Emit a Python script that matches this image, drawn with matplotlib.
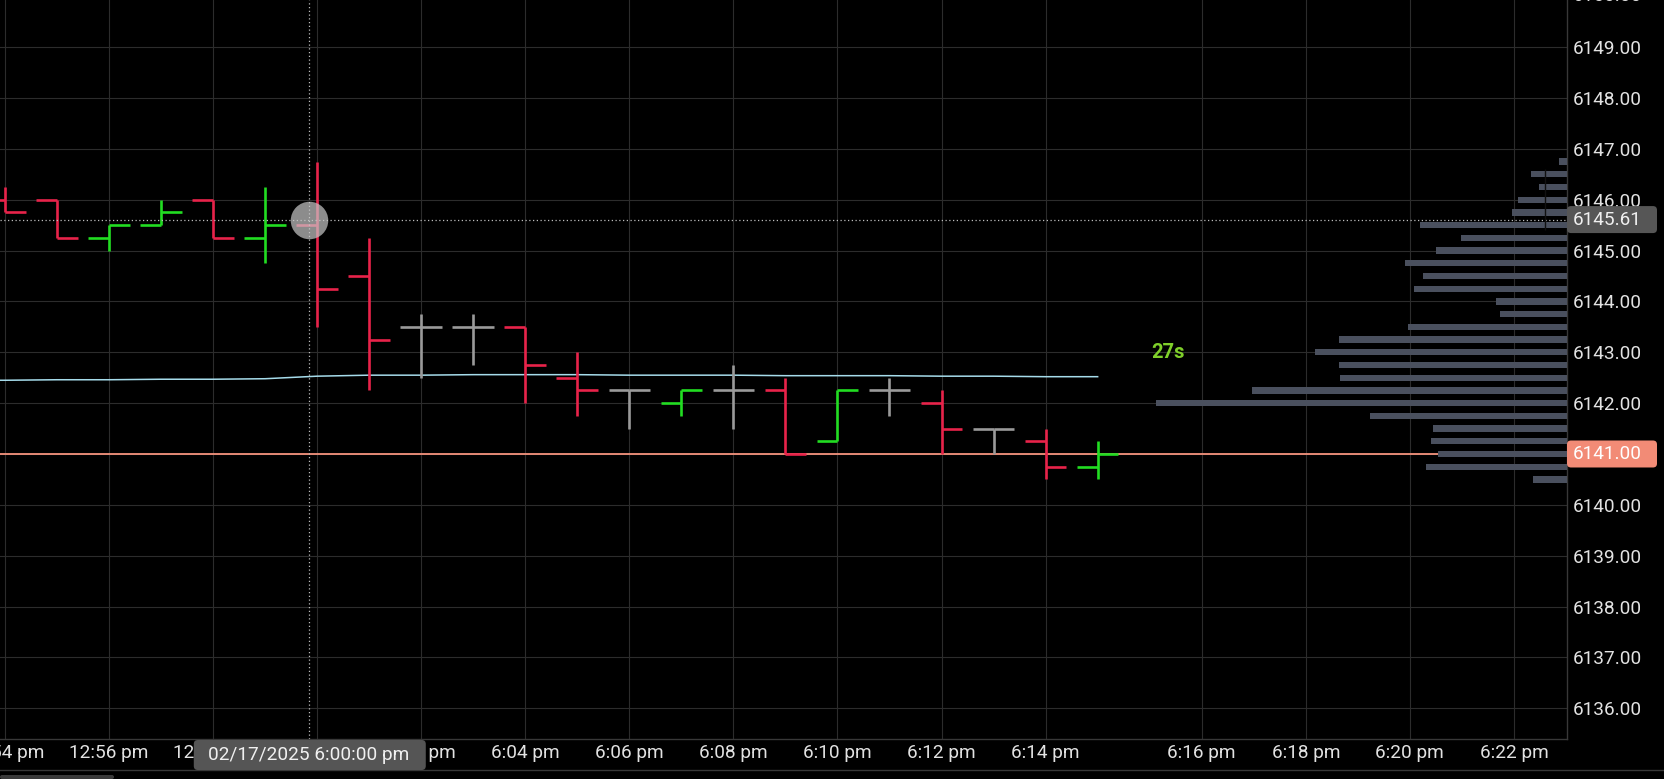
import matplotlib
matplotlib.use("Agg")
import matplotlib.pyplot as plt
from matplotlib.patches import FancyBboxPatch
from matplotlib.lines import Line2D
from matplotlib.transforms import IdentityTransform

plt.rcParams['font.family'] = ['Roboto', 'DejaVu Sans']

W, H, DPI = 1665, 779, 100

# ---------------- data ----------------
bar_slots = list(range(22))          # one slot per minute bar (12:54 pm ... 6:15 pm)
opens  = [6146.00, 6146.00, 6145.25, 6145.50, 6146.00, 6145.25, 6145.50, 6144.50,
          6143.50, 6143.50, 6143.50, 6142.50, 6142.25, 6142.00, 6142.25, 6142.25,
          6141.25, 6142.25, 6142.00, 6141.50, 6141.25, 6140.75]
highs  = [6146.25, 6146.00, 6145.50, 6146.00, 6146.00, 6146.25, 6146.75, 6145.25,
          6143.75, 6143.75, 6143.50, 6143.00, 6142.25, 6142.25, 6142.75, 6142.50,
          6142.25, 6142.50, 6142.25, 6141.50, 6141.50, 6141.25]
lows   = [6145.75, 6145.25, 6145.00, 6145.50, 6145.25, 6144.75, 6143.50, 6142.25,
          6142.50, 6142.75, 6142.00, 6141.75, 6141.50, 6141.75, 6141.50, 6141.00,
          6141.25, 6141.75, 6141.00, 6141.00, 6140.50, 6140.50]
closes = [6145.75, 6145.25, 6145.50, 6145.75, 6145.25, 6145.50, 6144.25, 6143.25,
          6143.50, 6143.50, 6142.75, 6142.25, 6142.25, 6142.25, 6142.25, 6141.00,
          6142.25, 6142.25, 6141.50, 6141.50, 6140.75, 6141.00]

tick_slots  = [0, 2, 4, 6, 8, 10, 12, 14, 16, 18, 20, 23, 25, 27, 29]
tick_labels = ['12:54 pm', '12:56 pm', '12:58 pm', '6:00 pm', '6:02 pm', '6:04 pm',
               '6:06 pm', '6:08 pm', '6:10 pm', '6:12 pm', '6:14 pm',
               '6:16 pm', '6:18 pm', '6:20 pm', '6:22 pm']

vwap_slots = list(range(-1, 22))
vwap_vals  = [6142.45, 6142.45, 6142.46, 6142.46, 6142.47, 6142.47, 6142.48, 6142.53,
              6142.55, 6142.55, 6142.56, 6142.56, 6142.56, 6142.55, 6142.55, 6142.55,
              6142.54, 6142.54, 6142.54, 6142.53, 6142.53, 6142.52, 6142.52]

level_price = 6141.00
cursor_slot = 5.84
cursor_price = 6145.61
cursor_label = '02/17/2025 6:00:00 pm'
timer_label = '27s'
timer_price = 6143.00

profile_prices = [6146.75, 6146.50, 6146.25, 6146.00, 6145.75, 6145.50, 6145.25, 6145.00,
                  6144.75, 6144.50, 6144.25, 6144.00, 6143.75, 6143.50, 6143.25, 6143.00,
                  6142.75, 6142.50, 6142.25, 6142.00, 6141.75, 6141.50, 6141.25, 6141.00,
                  6140.75, 6140.50]
profile_vols = [8, 36, 28, 49, 55, 147, 106, 131, 162, 144, 153, 71, 67, 159, 228, 252,
                228, 227, 315, 411, 197, 134, 136, 129, 141, 34]
profile_split_vol = 22
profile_split_range = (6145.40, 6146.60)

price_ticks = list(range(6136, 6150))
top_partial_tick = 6150

# ---------------- style ----------------
BG = '#000000'
GRID = '#2c2c2c'
BORDER = '#383838'
UP = '#22DD22'
DOWN = '#E8234A'
FLAT = '#9A9A9A'
TXT = '#E2E2E2'
FS = 13.7

fig = plt.figure(figsize=(W / DPI, H / DPI), dpi=DPI, facecolor=BG)
plot_right = 1567
plot_bottom = 739
ax = fig.add_axes([0, (H - plot_bottom) / H, plot_right / W, plot_bottom / H])
ax.set_facecolor(BG)
ax.set_xlim(-0.094, 30.02)
ax.set_ylim(6135.395, 6149.928)

for s in ['top', 'left']:
    ax.spines[s].set_visible(False)
for s in ['right', 'bottom']:
    ax.spines[s].set_color(BORDER)
    ax.spines[s].set_linewidth(1.0)

ax.yaxis.tick_right()
ax.set_yticks(price_ticks)
ax.set_yticklabels([f'{p:.2f}' for p in price_ticks])
ax.set_xticks(tick_slots)
ax.set_xticklabels(tick_labels)
ax.tick_params(axis='y', length=0, pad=4.3, labelsize=FS, labelcolor=TXT)
ax.tick_params(axis='x', length=0, pad=3.5, labelsize=FS, labelcolor=TXT)
ax.grid(True, color=GRID, linewidth=0.8, zorder=0)
ax.set_axisbelow(True)

# reference lines
ax.axhline(level_price, color='#F4937C', linewidth=1.3, zorder=2)
ax.plot(vwap_slots, vwap_vals, color='#A6DCEB', linewidth=1.1, zorder=2)

# OHLC bars
tw = 0.4
for s, o, h, l, c in zip(bar_slots, opens, highs, lows, closes):
    col = UP if c > o else (DOWN if c < o else FLAT)
    ax.vlines(s, l, h, color=col, linewidth=1.9, zorder=4, capstyle='butt')
    ax.hlines(o, s - tw, s, color=col, linewidth=1.9, zorder=4, capstyle='butt')
    ax.hlines(c, s, s + tw, color=col, linewidth=1.9, zorder=4, capstyle='butt')

# crosshair
ax.axvline(cursor_slot, color='#BDBDBD', linewidth=0.9, linestyle=(0, (1, 2)), zorder=5)
ax.axhline(cursor_price, color='#BDBDBD', linewidth=0.9, linestyle=(0, (1, 2)), zorder=5)
ax.plot([cursor_slot], [cursor_price], marker='o', markersize=27, color='#C8C8C8',
        alpha=0.7, markeredgewidth=0, zorder=6)

# timer label
ax.text(bar_slots[-1] + 1.35, timer_price, timer_label, color='#7FCF2A', fontsize=14.5,
        fontweight='bold', ha='center', va='center', zorder=6)

# volume profile (overlay axes sharing the price scale)
ax2 = fig.add_axes(ax.get_position(), sharey=ax)
ax2.set_xlim(plot_right, 0)
ax2.patch.set_visible(False)
ax2.axis('off')
ax2.barh(profile_prices, profile_vols, height=0.125, color='#4A505E', zorder=3)
ax2.vlines(profile_split_vol, *profile_split_range, color='#111111', linewidth=1.0, zorder=4)

fig.canvas.draw()

def dy(p):
    return ax.transData.transform((0, p))[1]

def dx(s):
    return ax.transData.transform((s, 0))[0]

# partial top tick label
fig.text((plot_right + 6) / W, dy(top_partial_tick) / H, f'{top_partial_tick:.2f}',
         color=TXT, fontsize=FS, ha='left', va='center')

# highlighted price labels
def price_box(p, fc, tc):
    yc = dy(p)
    box = FancyBboxPatch((plot_right, yc - 13.5), 90, 27,
                         boxstyle='round,pad=0,rounding_size=4',
                         fc=fc, ec='none', transform=IdentityTransform(), zorder=20)
    fig.add_artist(box)
    fig.text((plot_right + 6) / W, yc / H, f'{p:.2f}', color=tc, fontsize=FS,
             ha='left', va='center', zorder=21)

price_box(cursor_price, '#565656', '#F0F0F0')
price_box(level_price, '#F28B76', '#FFFFFF')

# cursor time label on x axis
xc = dx(cursor_slot)
tb = FancyBboxPatch((xc - 115, H - 770), 232, 30, boxstyle='round,pad=0,rounding_size=4',
                    fc='#555555', ec='none', transform=IdentityTransform(), zorder=20)
fig.add_artist(tb)
fig.text(xc / W, (H - 755) / H, cursor_label, color='#F0F0F0', fontsize=FS,
         ha='center', va='center', zorder=21)

# bottom border of time axis and scrollbar
fig.add_artist(Line2D([0, 1], [(H - 770) / H] * 2, transform=fig.transFigure,
                      color=BORDER, linewidth=1.0))
fig.add_artist(FancyBboxPatch((0, 0), 114, 4, boxstyle='round,pad=0,rounding_size=2',
                              fc='#3a3a3a', ec='none', transform=IdentityTransform()))

fig.savefig('out.png', dpi=DPI, facecolor=BG)
